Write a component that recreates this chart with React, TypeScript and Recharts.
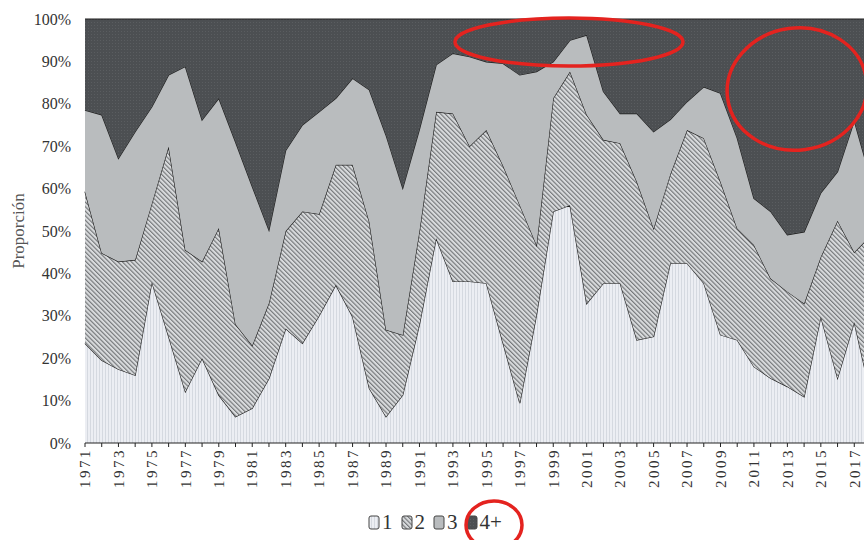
import React from 'react';
import { AreaChart, Area, XAxis, YAxis, Legend } from 'recharts';

// Household size shares by year (percent of total, each year sums to ~100)
const years = [
  '1971', '1972', '1973', '1974', '1975', '1976', '1977', '1978', '1979', '1980',
  '1981', '1982', '1983', '1984', '1985', '1986', '1987', '1988', '1989', '1990',
  '1991', '1992', '1993', '1994', '1995', '1996', '1997', '1998', '1999', '2000',
  '2001', '2002', '2003', '2004', '2005', '2006', '2007', '2008', '2009', '2010',
  '2011', '2012', '2013', '2014', '2015', '2016', '2017', '2018',
];

const share1 = [
  23.5, 19.5, 17.4, 16.0, 38.0, 25.1, 12.1, 20.0, 11.3, 6.2,
  8.2, 15.2, 27.0, 23.5, 30.0, 37.3, 29.8, 12.9, 6.2, 11.3,
  28.0, 48.3, 38.1, 38.1, 37.7, 23.5, 9.4, 30.3, 54.6, 56.1,
  32.9, 37.7, 37.7, 24.3, 25.1, 42.4, 42.4, 37.7, 25.5, 24.3,
  18.0, 15.3, 13.3, 10.9, 29.8, 15.3, 28.5, 11.0,
];

const share2 = [
  35.8, 25.3, 25.4, 27.2, 18.5, 44.8, 33.4, 22.8, 39.4, 21.8,
  14.8, 17.8, 23.0, 31.1, 24.0, 28.3, 35.8, 39.3, 20.5, 14.2,
  22.0, 29.8, 39.6, 31.9, 36.1, 41.9, 46.7, 16.4, 26.7, 31.5,
  44.5, 33.8, 33.0, 37.3, 25.5, 21.0, 31.4, 34.2, 36.1, 26.3,
  28.7, 23.5, 22.4, 22.0, 14.1, 37.1, 16.5, 38.0,
];

const share3 = [
  19.2, 32.6, 24.3, 30.2, 22.8, 16.9, 43.3, 33.4, 30.6, 43.0,
  37.5, 17.2, 19.0, 20.4, 24.1, 15.7, 20.4, 31.1, 45.9, 34.6,
  24.0, 11.1, 14.2, 21.1, 16.1, 24.1, 30.7, 40.9, 8.6, 7.4,
  18.8, 11.4, 7.0, 16.1, 22.8, 12.9, 6.7, 12.1, 20.9, 21.3,
  11.0, 15.8, 13.4, 16.9, 15.1, 11.6, 31.0, 13.0,
];

const share4 = [
  21.5, 22.6, 32.9, 26.6, 20.7, 13.2, 11.2, 23.8, 18.7, 29.0,
  39.5, 49.8, 31.0, 25.0, 21.9, 18.7, 14.0, 16.7, 27.4, 39.9,
  26.0, 10.8, 8.1, 8.9, 10.1, 10.5, 13.2, 12.4, 10.1, 5.0,
  3.8, 17.1, 22.3, 22.3, 26.6, 23.7, 19.5, 16.0, 17.5, 28.1,
  42.3, 45.4, 50.9, 50.2, 41.0, 36.0, 24.0, 38.0,
];

const yTicks = [0, 0.1, 0.2, 0.3, 0.4, 0.5, 0.6, 0.7, 0.8, 0.9, 1];

const data = years.map((year, i) => ({
  year,
  p1: share1[i],
  p2: share2[i],
  p3: share3[i],
  p4: share4[i],
}));

const FILLS: Record<string, string> = {
  p1: 'url(#fill1)',
  p2: 'url(#fill2)',
  p3: 'url(#fill3)',
  p4: 'url(#fill4)',
};

const SERIF = '"Liberation Serif", "Times New Roman", serif';

// every year gets a tick mark, only every other year gets a label
const YearTick = (props: any) => {
  const { x, y, payload, index } = props;
  if (index % 2 !== 0) return null;
  return (
    <g transform={`translate(${x},${y})`}>
      <text
        transform="rotate(-90)"
        textAnchor="end"
        dy="0.35em"
        fill="#333"
        fontSize={15}
        letterSpacing={2.5}
        fontFamily={SERIF}
      >
        {payload.value}
      </text>
    </g>
  );
};

const LegendContent = ({ payload }: any) => (
  <div
    style={{
      height: 36,
      display: 'flex',
      justifyContent: 'center',
      alignItems: 'center',
      gap: 8,
      fontFamily: SERIF,
      fontSize: 21,
      color: '#333',
    }}
  >
    {(payload || []).map((entry: any) => (
      <span key={entry.value} style={{ display: 'flex', alignItems: 'center', gap: 2 }}>
        <svg width={12} height={15}>
          <rect x={1} y={1} width={10} height={13} rx={2} fill={FILLS[entry.dataKey]} stroke="#444" strokeWidth={1} />
        </svg>
        {entry.value}
      </span>
    ))}
  </div>
);

export default function App() {
  return (
    <div
      style={{
        position: 'fixed',
        left: 0,
        top: 0,
        width: 864,
        height: 540,
        overflow: 'hidden',
        background: '#fff',
        fontFamily: SERIF,
      }}
    >
      <AreaChart
        width={872}
        height={540}
        data={data}
        stackOffset="expand"
        margin={{ top: 19, right: 1, bottom: 0, left: 0 }}
      >
        <defs>
          <pattern id="fill1" width={3} height={3} patternUnits="userSpaceOnUse">
            <rect width={3} height={3} fill="#eceef3" />
            <line x1={0.5} y1={0} x2={0.5} y2={3} stroke="#d5d9e0" strokeWidth={1} />
          </pattern>
          <pattern id="fill2" width={3.2} height={3.2} patternUnits="userSpaceOnUse" patternTransform="rotate(-45)">
            <rect width={3.2} height={3.2} fill="#d9dbdd" />
            <line x1={0.6} y1={0} x2={0.6} y2={3.2} stroke="#65686b" strokeWidth={1} />
          </pattern>
          <pattern id="fill3" width={4} height={4} patternUnits="userSpaceOnUse">
            <rect width={4} height={4} fill="#b9bcbe" />
          </pattern>
          <pattern id="fill4" width={3} height={3} patternUnits="userSpaceOnUse">
            <rect width={3} height={3} fill="#4c4f52" />
            <rect x={1} y={1} width={1} height={1} fill="#5a5d60" />
          </pattern>
        </defs>
        <XAxis
          dataKey="year"
          interval={0}
          tick={<YearTick />}
          tickSize={4}
          tickMargin={1}
          height={61}
          stroke="#222"
        />
        <YAxis
          width={85}
          ticks={yTicks}
          domain={[0, 1]}
          axisLine={false}
          tickLine={false}
          tickMargin={8}
          tickFormatter={(v: number) => `${Math.round(v * 100)}%`}
          tick={{ fill: '#333', fontSize: 16, fontFamily: SERIF }}
          label={{
            value: 'Proporción',
            angle: -90,
            position: 'insideLeft',
            offset: 18,
            style: { textAnchor: 'middle', fill: '#555', fontSize: 17, fontFamily: SERIF },
          }}
        />
        <Legend verticalAlign="bottom" wrapperStyle={{ left: 0, width: 870 }} content={<LegendContent />} />
        <Area type="linear" dataKey="p1" name="1" stackId="hh" stroke="#1e1e1e" strokeWidth={1.2} fill={FILLS.p1} fillOpacity={1} isAnimationActive={false} />
        <Area type="linear" dataKey="p2" name="2" stackId="hh" stroke="#1e1e1e" strokeWidth={1.2} fill={FILLS.p2} fillOpacity={1} isAnimationActive={false} />
        <Area type="linear" dataKey="p3" name="3" stackId="hh" stroke="#1e1e1e" strokeWidth={1.2} fill={FILLS.p3} fillOpacity={1} isAnimationActive={false} />
        <Area type="linear" dataKey="p4" name="4+" stackId="hh" stroke="#1e1e1e" strokeWidth={1.2} fill={FILLS.p4} fillOpacity={1} isAnimationActive={false} />
      </AreaChart>
      {/* hand-drawn highlight marks */}
      <svg width={864} height={540} style={{ position: 'absolute', left: 0, top: 0, pointerEvents: 'none' }}>
        <g fill="none" stroke="#e4231f" strokeWidth={3.5}>
          <ellipse cx={569} cy={42} rx={114} ry={24} />
          <ellipse cx={797} cy={89} rx={70} ry={61} transform="rotate(-8 797 89)" />
          <ellipse cx={494} cy={525} rx={28} ry={24} />
        </g>
      </svg>
    </div>
  );
}
